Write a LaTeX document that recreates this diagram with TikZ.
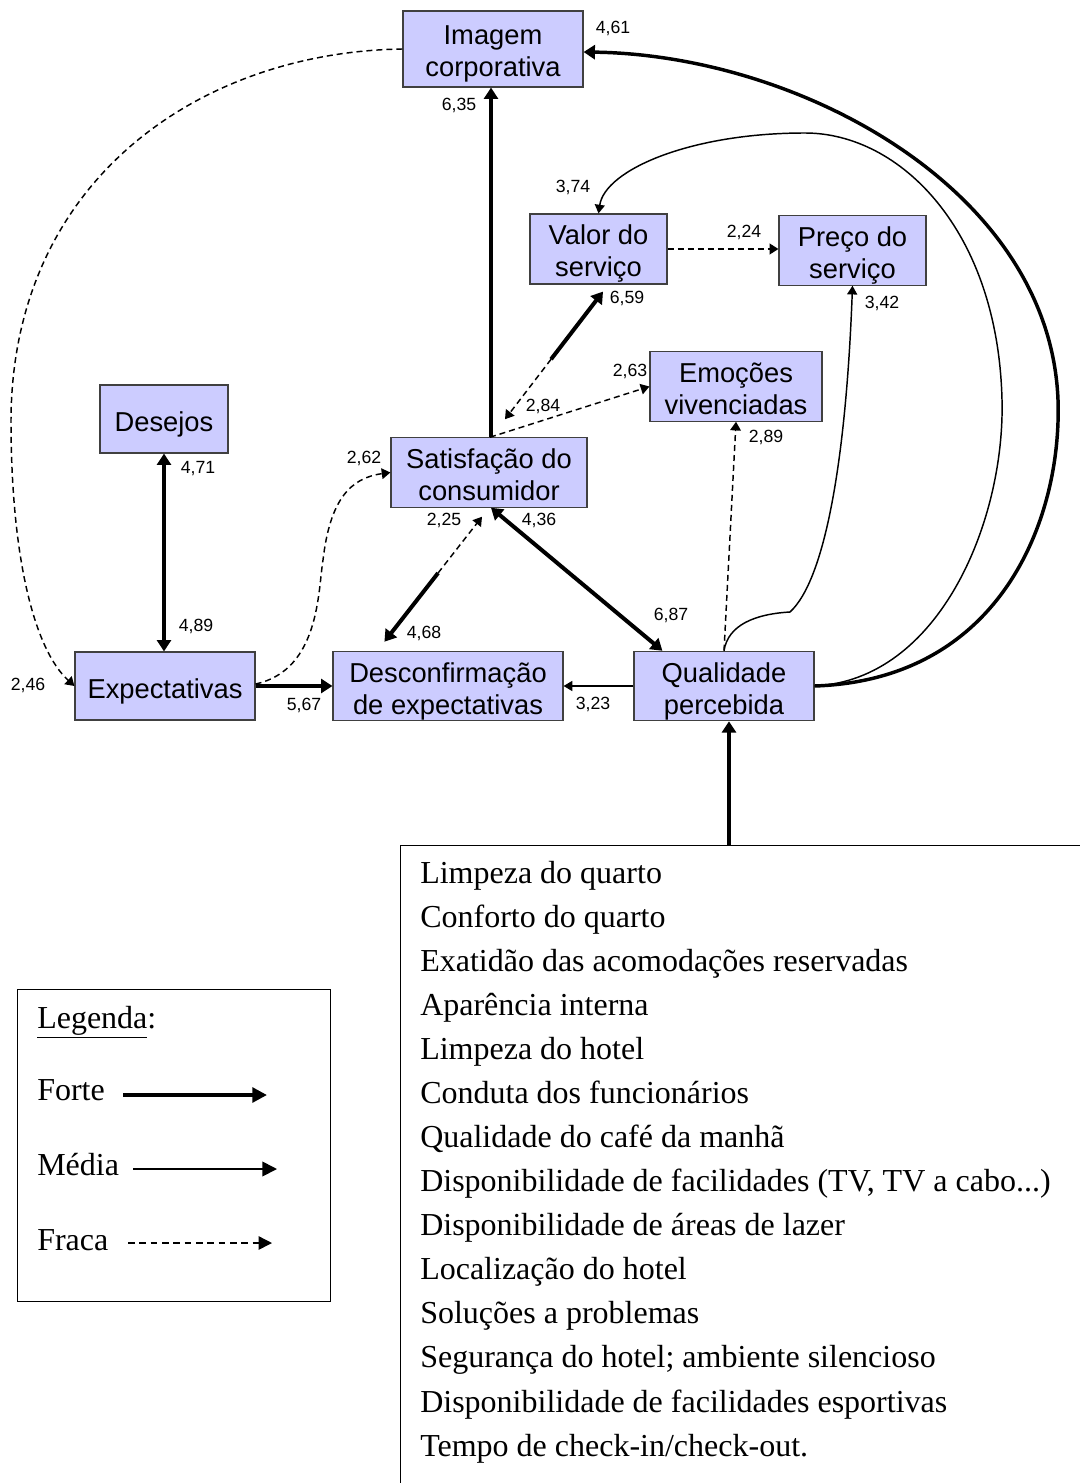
\documentclass[tikz,border=0pt]{standalone}
\usepackage{fontspec}
\setmainfont{Liberation Serif}
\newfontfamily\arialf{Liberation Sans}
\usetikzlibrary{arrows.meta,calc}
\definecolor{boxfill}{HTML}{CCCCFF}
\definecolor{boxdraw}{HTML}{404040}
\newcommand\tsA{\rule{0pt}{23pt}}
\newcommand\bsA{\rule[-5pt]{0pt}{5pt}}
\begin{document}
\begin{tikzpicture}[x=0.75pt,y=-0.75pt,
  cbox/.style={draw=boxdraw,fill=boxfill,line width=0.9pt,inner sep=0pt,align=center,
    font=\arialf\fontsize{20.5}{24}\selectfont},
  lbl/.style={font=\arialf\fontsize{13.25}{14}\selectfont,inner sep=0pt},
  forte/.style={line width=3pt,-{Triangle[length=8.5pt,width=10.5pt]}},
  forteboth/.style={line width=3pt,{Triangle[length=8.5pt,width=10.5pt]}-{Triangle[length=8.5pt,width=10.5pt]}},
  media/.style={line width=1.1pt,-{Triangle[length=6.5pt,width=7.5pt]}},
  fraca/.style={line width=1.1pt,dash pattern=on 4.5pt off 3pt,-{Triangle[length=6.5pt,width=8pt]}},
  txt/.style={font=\fontsize{24}{28}\selectfont,inner sep=0pt,anchor=base west},
  legbox/.style={draw,line width=1.1pt,inner sep=0pt,anchor=north west}
]
\useasboundingbox (0,0) rectangle (1080,1483);

% ---- boxes ----
\node[cbox,minimum width=135pt,minimum height=57pt] (img) at (493,49) {\tsA Imagem\\corporativa\bsA};
\node[cbox,minimum width=102.75pt,minimum height=52.5pt] (val) at (598.5,249) {\tsA Valor do\\serviço\bsA};
\node[cbox,minimum width=110.25pt,minimum height=51.75pt] (pre) at (852.5,250.5) {\tsA Preço do\\serviço\bsA};
\node[cbox,minimum width=129pt,minimum height=51.75pt] (emo) at (736,386.5) {\tsA Emoções\\vivenciadas\bsA};
\node[cbox,minimum width=96pt,minimum height=51pt] (des) at (164,419) {\tsA Desejos\bsA};
\node[cbox,minimum width=147pt,minimum height=51.75pt] (sat) at (489,472.5) {\tsA Satisfação do\\consumidor\bsA};
\node[cbox,minimum width=135pt,minimum height=51pt] (exp) at (165,686) {\tsA Expectativas\bsA};
\node[cbox,minimum width=172.5pt,minimum height=51pt] (dsc) at (448,686) {\tsA Desconfirmação\\de expectativas\bsA};
\node[cbox,minimum width=135pt,minimum height=51pt] (qua) at (724,686) {\tsA Qualidade\\percebida\bsA};

% ---- list box ----
\node[legbox,minimum width=517.5pt,minimum height=487.5pt] (lista) at (400,845) {};
\node[txt] (item1) at (420,883.0) {Limpeza do quarto};
\node[txt] (item2) at (420,927.1) {Conforto do quarto};
\node[txt] (item3) at (420,971.2) {Exatidão das acomodações reservadas};
\node[txt] (item4) at (420,1015.2) {Aparência interna};
\node[txt] (item5) at (420,1059.3) {Limpeza do hotel};
\node[txt] (item6) at (420,1103.4) {Conduta dos funcionários};
\node[txt] (item7) at (420,1147.5) {Qualidade do café da manhã};
\node[txt] (item8) at (420,1191.6) {Disponibilidade de facilidades (TV, TV a cabo...)};
\node[txt] (item9) at (420,1235.6) {Disponibilidade de áreas de lazer};
\node[txt] (item10) at (420,1279.7) {Localização do hotel};
\node[txt] (item11) at (420,1323.8) {Soluções a problemas};
\node[txt] (item12) at (420,1367.9) {Segurança do hotel; ambiente silencioso};
\node[txt] (item13) at (420,1412.0) {Disponibilidade de facilidades esportivas};
\node[txt] (item14) at (420,1456.0) {Tempo de check-in/check-out.};

% ---- legend ----
\node[legbox,minimum width=234.75pt,minimum height=234pt] (leg) at (17,989) {};
\node[txt] (legT) at (37,1028) {\underline{Legenda}:};
\node[txt] (legF) at (37,1100) {Forte};
\node[txt] (legM) at (37,1175) {Média};
\node[txt] (legW) at (37,1250) {Fraca};
\coordinate (fa) at (123,1095); \coordinate (fb) at (267,1095);
\coordinate (ma) at (133,1169); \coordinate (mb) at (277,1169);
\coordinate (wa) at (128,1243); \coordinate (wb) at (272,1243);
\draw[line width=3pt,-{Triangle[length=11pt,width=11pt]}] (fa) -- (fb);
\draw[line width=1.3pt,-{Triangle[length=11pt,width=11pt]}] (ma) -- (mb);
\draw[line width=1.1pt,dash pattern=on 5pt off 3.5pt,-{Triangle[length=10pt,width=10pt]}] (wa) -- (wb);

% ---- connectors ----
\draw[forte] ([xshift=1.5pt]sat.north) -- ([xshift=-1.5pt]img.south);
\draw[line width=2.6pt,-{Triangle[length=8.5pt,width=10.5pt]}] (qua.east)
  .. controls (1000,680) and (1062,520) .. (1058,400)
  .. controls (1050,190) and (800,55) .. ([yshift=-2.25pt]img.east);
\draw[media] (qua.east)
  .. controls (940,680) and (1005,520) .. (1002,400)
  .. controls (998,230) and (900,133) .. (805,133)
  .. controls (690,133) and (605,170) .. (val.north);
\draw[fraca] (val.east) -- (val.east -| pre.west);
\draw[media] (qua.north)
  .. controls (728,625) and (755,614) .. (790,612)
  .. controls (825,580) and (846,460) .. (pre.south);
\draw[fraca] (qua.north) -- (emo.south);
\draw[fraca] ([xshift=0.75pt]sat.north) -- (emo.west);

\coordinate (sv1) at ([shift={(16,-18)}]sat.north);
\coordinate (sv2) at ([shift={(4.5,7)}]val.south);
\coordinate (svm) at ($(sv1)!0.47!(sv2)$);
\draw[fraca] (svm) -- (sv1);
\draw[forte] (svm) -- (sv2);

\draw[forteboth] ([xshift=1.5pt]sat.south) -- ([xshift=21.75pt]qua.north west);

\coordinate (sd1) at ([shift={(-7,9)}]sat.south);
\coordinate (sd2) at ([shift={(52,-9)}]dsc.north west);
\coordinate (sdm) at ($(sd1)!0.45!(sd2)$);
\draw[fraca] (sdm) -- (sd1);
\draw[forte] (sdm) -- (sd2);

\draw[forteboth] (des.south) -- (des.south |- exp.north);
\draw[forte] (exp.east) -- (dsc.west);
\draw[media] (qua.west) -- (dsc.east);
\draw[fraca] ([yshift=1.5pt]exp.east)
  .. controls (320,670) and (318,590) .. (323,560)
  .. controls (330,500) and (350,478) .. (sat.west);
\draw[fraca] (img.west)
  .. controls (200,52) and (12,180) .. (11,420)
  .. controls (11,560) and (35,650) .. (exp.west);
\draw[forte] ([xshift=246.75pt]lista.north west) -- ([xshift=3.75pt]qua.south);

% ---- labels ----
\node[lbl] (l461) at (613,28) {4,61};
\node[lbl] (l635) at (459,105) {6,35};
\node[lbl] (l374) at (573,187) {3,74};
\node[lbl] (l224) at (744,232) {2,24};
\node[lbl] (l659) at (627,298) {6,59};
\node[lbl] (l342) at (882,303) {3,42};
\node[lbl] (l263) at (630,371) {2,63};
\node[lbl] (l284) at (543,406) {2,84};
\node[lbl] (l289) at (766,437) {2,89};
\node[lbl] (l262) at (364,458) {2,62};
\node[lbl] (l471) at (198,469) {4,71};
\node[lbl] (l225) at (444,520) {2,25};
\node[lbl] (l436) at (539,520) {4,36};
\node[lbl] (l687) at (671,615) {6,87};
\node[lbl] (l489) at (196,626) {4,89};
\node[lbl] (l468) at (424,633) {4,68};
\node[lbl] (l246) at (28,685) {2,46};
\node[lbl] (l567) at (304,705) {5,67};
\node[lbl] (l323) at (593,704) {3,23};
\end{tikzpicture}
\end{document}
